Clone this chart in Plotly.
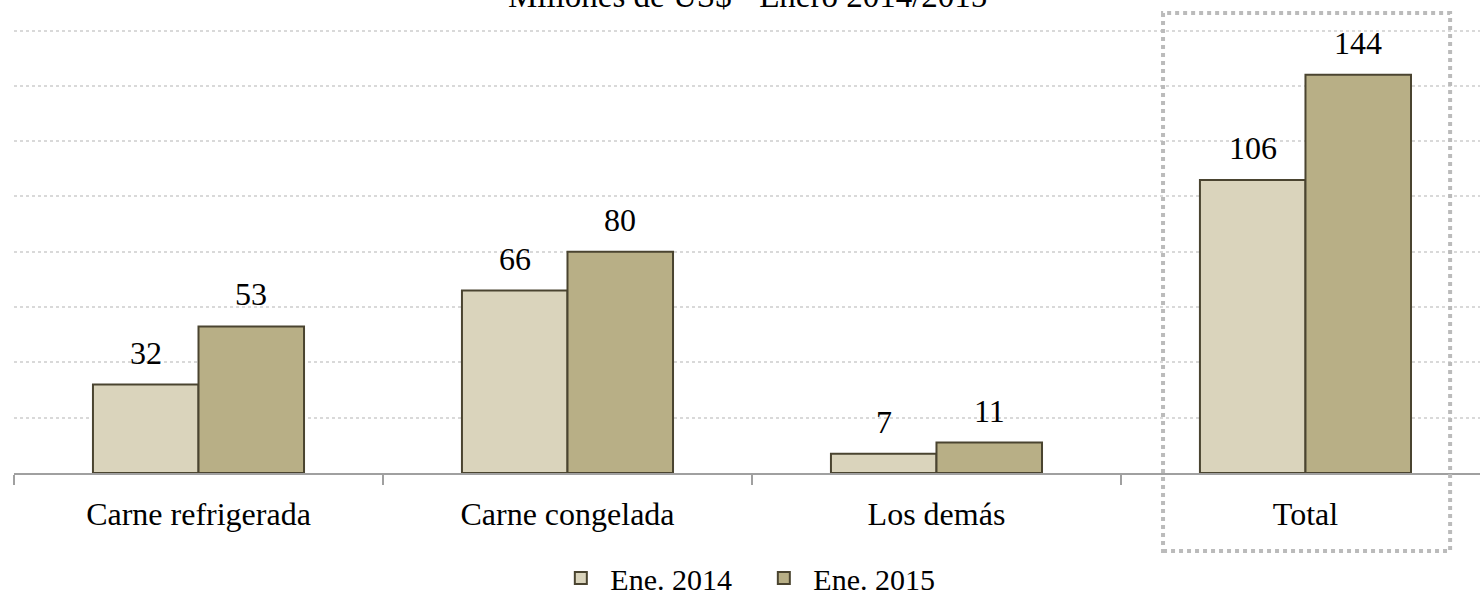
import plotly.graph_objects as go

categories = ["Carne refrigerada", "Carne congelada", "Los demás", "Total"]
vals_2014 = [32, 66, 7, 106]
vals_2015 = [53, 80, 11, 144]
series_names = ["Ene. 2014", "Ene. 2015"]
title_text = "Millones de US$ - Enero 2014/2015"

FONT = "Liberation Serif, Times New Roman, serif"
BAR_HALF_OFFSET = 52.8  # px offset of each grouped bar center from category center

fig = go.Figure()
fig.add_trace(go.Bar(
    x=categories, y=vals_2014, name=series_names[0],
    marker=dict(color="#DAD4BC", line=dict(color="#4A4430", width=2)),
))
fig.add_trace(go.Bar(
    x=categories, y=vals_2015, name=series_names[1],
    marker=dict(color="#B8AF86", line=dict(color="#4A4430", width=2)),
))

annotations = [dict(
    text=title_text, x=0.5, xref="paper", y=1, yref="paper",
    xanchor="center", yanchor="bottom", showarrow=False, yshift=-2,
    font=dict(family=FONT, size=33, color="#000000"),
)]
for vals, sign in ((vals_2014, -1), (vals_2015, 1)):
    for c, v in zip(categories, vals):
        annotations.append(dict(
            text=str(v), x=c, y=v, xref="x", yref="y", showarrow=False,
            xanchor="center", yanchor="bottom", xshift=sign * BAR_HALF_OFFSET, yshift=12,
            font=dict(family=FONT, size=32, color="#000000"),
        ))

fig.update_layout(
    width=1480, height=595,
    margin=dict(l=14, r=0, t=14, b=122, autoexpand=False),
    paper_bgcolor="white", plot_bgcolor="white",
    barmode="group", bargap=0.428, bargroupgap=0,
    font=dict(family=FONT, size=30, color="#000000"),
    showlegend=True,
    legend=dict(orientation="h", x=0.505, xanchor="center", y=-0.229, yanchor="middle",
                font=dict(family=FONT, size=30), itemwidth=49, entrywidth=139,
                traceorder="normal"),
    xaxis=dict(
        range=[-0.5, 3.473], showline=True, linecolor="#A0A0A0", linewidth=2,
        ticks="outside", tickson="boundaries", ticklen=10, tickcolor="#A0A0A0", tickwidth=2,
        tickfont=dict(family=FONT, size=32, color="#000000"), showgrid=False,
        ticklabelstandoff=12, automargin=False,
    ),
    yaxis=dict(
        range=[0, 166], dtick=20, showticklabels=False, zeroline=False,
        showgrid=True, gridcolor="#D9D9D9", gridwidth=2, griddash="dot", automargin=False,
    ),
    annotations=annotations,
    shapes=[dict(
        type="rect", xref="x", yref="paper", x0=2.614, x1=3.392, y0=-0.170, y1=1.002,
        line=dict(color="#BBBBBB", width=4, dash="dot"), fillcolor="rgba(0,0,0,0)", layer="above",
    )],
)

fig.write_html("out.html", config={"displayModeBar": False},
               post_script="document.body.style.margin='0px';")
